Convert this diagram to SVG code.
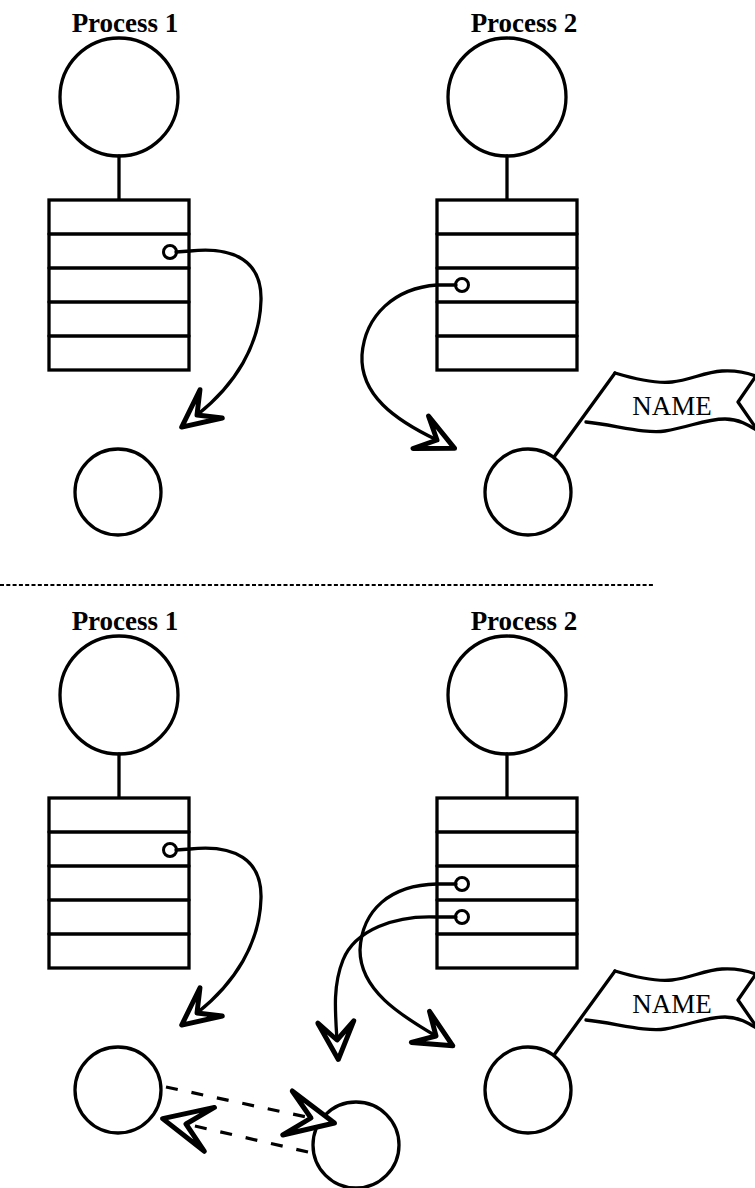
<svg xmlns="http://www.w3.org/2000/svg" width="755" height="1188" viewBox="0 0 755 1188">
<style>
.s{fill:none;stroke:#000;stroke-width:3.3;stroke-linecap:round;stroke-linejoin:round}
.c{fill:#fff;stroke:#000;stroke-width:3.3}
.sc{fill:#fff;stroke:#000;stroke-width:3}
.lbl{font-family:"Liberation Serif","Times New Roman",serif;font-size:27px;font-weight:bold;text-anchor:middle;fill:#000}
.nm{font-family:"Liberation Serif","Times New Roman",serif;font-size:27px;text-anchor:middle;fill:#000}
.d{fill:none;stroke:#000;stroke-width:3.2;stroke-dasharray:12 14}
</style>
<defs>
<marker id="ah" markerUnits="userSpaceOnUse" orient="auto" refX="0" refY="0" markerWidth="60" markerHeight="60" viewBox="-20 -20 40 40" overflow="visible">
<path d="M13,0 L-12,-12 L0,0 L-12,12 Z" fill="#fff" stroke="#000" stroke-width="3.3" stroke-linejoin="round"/>
</marker>
<marker id="ahd" markerUnits="userSpaceOnUse" orient="auto" refX="0" refY="0" markerWidth="60" markerHeight="60" viewBox="-20 -20 40 40" overflow="visible">
<path d="M16,0 L-16,-15 L0,0 L-16,15 Z" fill="#fff" stroke="#000" stroke-width="3.3" stroke-linejoin="round"/>
</marker>
</defs>
<rect x="0" y="0" width="755" height="1188" fill="#fff"/>

<!-- TOP HALF -->
<g id="p1-top">
<text class="lbl" x="125" y="32">Process 1</text>
<circle class="c" cx="119" cy="97" r="59"/>
<line class="s" x1="119" y1="156" x2="119" y2="200"/>
<rect class="c" x="49" y="200" width="140" height="170"/>
<path class="s" d="M49,234H189M49,268H189M49,302H189M49,336H189"/>
<circle class="sc" cx="170" cy="252" r="6.5"/>
</g>
<g id="p1-top-obj"><circle class="c" cx="118" cy="492" r="43"/></g>

<g id="p2-top">
<text class="lbl" x="524" y="32">Process 2</text>
<circle class="c" cx="507" cy="97" r="59"/>
<line class="s" x1="507" y1="156" x2="507" y2="200"/>
<rect class="c" x="437" y="200" width="140" height="170"/>
<path class="s" d="M437,234H577M437,268H577M437,302H577M437,336H577"/>
<circle class="sc" cx="462" cy="285" r="6.5"/>
</g>
<g id="p2-top-obj">
<circle class="c" cx="528" cy="492" r="43"/>
<line class="s" x1="554" y1="457" x2="615" y2="373"/>
<path class="s" d="M615,373 C635,379 655,384 672,382 C690,380 705,372 722,371 C738,370 748,373 756,376 L738,402 L758,431"/>
<path class="s" d="M586,422 C615,425 645,434 665,431 C690,427 705,419 725,419 C740,419 750,426 758,431"/>
<text class="nm" x="672" y="415">NAME</text>
</g>

<line x1="0" y1="585" x2="655" y2="585" stroke="#000" stroke-width="2.2" stroke-dasharray="4 2.3"/>

<!-- BOTTOM HALF -->
<g id="p1-bot">
<text class="lbl" x="125" y="630">Process 1</text>
<circle class="c" cx="119" cy="695" r="59"/>
<line class="s" x1="119" y1="754" x2="119" y2="798"/>
<rect class="c" x="49" y="798" width="140" height="170"/>
<path class="s" d="M49,832H189M49,866H189M49,900H189M49,934H189"/>
<circle class="sc" cx="170" cy="850" r="6.5"/>
</g>
<g id="p1-bot-obj"><circle class="c" cx="118" cy="1090" r="43"/></g>

<g id="p2-bot">
<text class="lbl" x="524" y="630">Process 2</text>
<circle class="c" cx="507" cy="695" r="59"/>
<line class="s" x1="507" y1="754" x2="507" y2="798"/>
<rect class="c" x="437" y="798" width="140" height="170"/>
<path class="s" d="M437,832H577M437,866H577M437,900H577M437,934H577"/>
<circle class="sc" cx="462" cy="884" r="6.5"/>
<circle class="sc" cx="462" cy="917" r="6.5"/>
</g>
<g id="p2-bot-obj">
<circle class="c" cx="528" cy="1090" r="43"/>
<line class="s" x1="554" y1="1055" x2="615" y2="971"/>
<path class="s" d="M615,971 C635,977 655,982 672,980 C690,978 705,970 722,969 C738,968 748,971 756,974 L738,1000 L758,1029"/>
<path class="s" d="M586,1020 C615,1023 645,1032 665,1029 C690,1025 705,1017 725,1017 C740,1017 750,1024 758,1029"/>
<text class="nm" x="672" y="1013">NAME</text>
</g>
<g id="mid-obj"><circle class="c" cx="356" cy="1145" r="43"/></g>

<g id="connectors">
<path class="s" d="M176,252 L190,251 C235,246 262,262 261,300 C260,345 235,385 197,415" marker-end="url(#ah)"/>
<path class="s" d="M456,285 L437,285 C395,288 365,315 362,355 C360,395 395,420 437,440" marker-end="url(#ah)"/>
<path class="s" d="M176,850 L190,849 C235,844 262,860 261,898 C260,943 235,983 197,1013" marker-end="url(#ah)"/>
<path class="s" d="M456,884 L437,884 C390,885 362,910 360,950 C360,990 400,1015 436,1036" marker-end="url(#ah)"/>
<path class="s" d="M456,917 L437,917 C395,915 355,930 343,960 C333,985 335,1010 337,1040" marker-end="url(#ah)"/>
<path class="d" d="M166,1087 L311,1118" marker-end="url(#ahd)"/>
<path class="d" d="M308,1152 L186,1124" marker-end="url(#ahd)"/>
</g>
</svg>
